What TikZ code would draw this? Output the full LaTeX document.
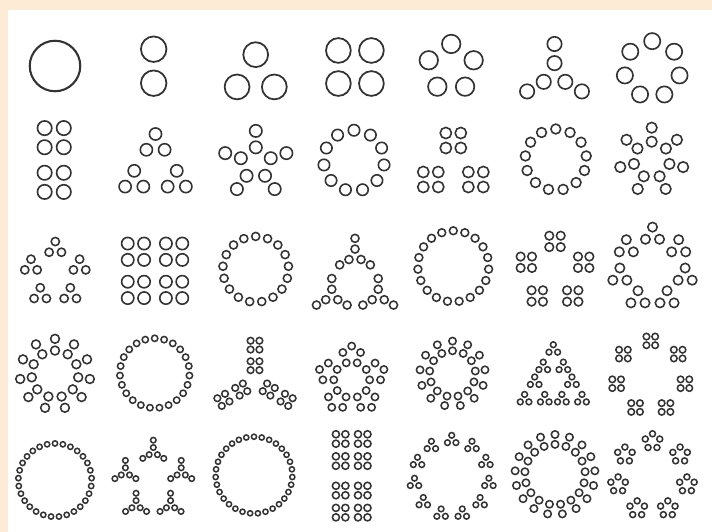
\documentclass[tikz,border=0pt]{standalone}
\definecolor{peach}{HTML}{FDEBD5}
\definecolor{ink}{HTML}{333333}
\tikzset{fdcirc/.style={draw=ink}}
\makeatletter
\def\fd@dot{.}
\def\fd@split#1,#2\fd@end{\def\fd@head{#1}\def\fd@tail{#2}}
\def\fd@csplit#1,#2\fd@end{\def\fd@chead{#1}\def\fd@ctail{#2}}
\def\fd@pc#1/#2\fd@end{\def\fd@p{#1}\def\fd@c{#2}}
\def\fd@cpc#1/#2\fd@end{\def\fd@cp{#1}}
\gdef\fdminx{10000}\gdef\fdmaxx{-10000}\gdef\fdminy{10000}\gdef\fdmaxy{-10000}
\gdef\fdW{2}\gdef\fdH{2}
\newcommand\fdsize[1]{%
  \begingroup
    \edef\fd@restore{\gdef\noexpand\fdminx{\fdminx}\gdef\noexpand\fdmaxx{\fdmaxx}\gdef\noexpand\fdminy{\fdminy}\gdef\noexpand\fdmaxy{\fdmaxy}}%
    \gdef\fdminx{10000}\gdef\fdmaxx{-10000}\gdef\fdminy{10000}\gdef\fdmaxy{-10000}%
    \fdtrav{#1}{0}{0}{0}{0}%
    \pgfmathsetmacro\fd@w{\fdmaxx-\fdminx+2}%
    \pgfmathsetmacro\fd@h{\fdmaxy-\fdminy+2}%
    \fd@restore
    \xdef\fdW{\fd@w}\xdef\fdH{\fd@h}%
  \endgroup}
\newcommand\fdtrav[5]{%
  \begingroup
  \edef\fd@list{#1}%
  \expandafter\fd@split\fd@list,\fd@end
  \ifx\fd@head\fd@dot
    \ifnum#5=0
      \pgfmathsetmacro\fd@t{min(\fdminx,#2)}\xdef\fdminx{\fd@t}%
      \pgfmathsetmacro\fd@t{max(\fdmaxx,#2)}\xdef\fdmaxx{\fd@t}%
      \pgfmathsetmacro\fd@t{min(\fdminy,#3)}\xdef\fdminy{\fd@t}%
      \pgfmathsetmacro\fd@t{max(\fdmaxy,#3)}\xdef\fdmaxy{\fd@t}%
    \else
      \pgfmathsetmacro\fd@X{\fdcx+\fds*(#2-\fdbx)}%
      \pgfmathsetmacro\fd@Y{-\fdcy+\fds*(#3-\fdby)}%
      \draw[fdcirc,line width=\fdlw pt] (\fd@X pt,\fd@Y pt) circle[radius=\fds pt];%
    \fi
  \else
    \expandafter\fd@pc\fd@head\fd@end
    \fdsize{\fd@tail}%
    \let\fd@Wc\fdW \let\fd@Hc\fdH
    \ifnum\fd@p=2
      \ifdim\fd@Wc pt>\dimexpr\fd@Hc pt-0.01pt\relax
        \def\fd@dx{0}\pgfmathsetmacro\fd@dy{2/3*\fd@Hc}%
      \else
        \pgfmathsetmacro\fd@dx{2/3*\fd@Wc}\def\fd@dy{0}%
      \fi
      \pgfmathsetmacro\fd@rx{\fd@dx*cos(#4)-\fd@dy*sin(#4)}%
      \pgfmathsetmacro\fd@ry{\fd@dx*sin(#4)+\fd@dy*cos(#4)}%
      \pgfmathsetmacro\fd@ax{#2+\fd@rx}\pgfmathsetmacro\fd@ay{#3+\fd@ry}%
      \pgfmathsetmacro\fd@bx{#2-\fd@rx}\pgfmathsetmacro\fd@by{#3-\fd@ry}%
      \edef\fd@next{\noexpand\fdtrav{\fd@tail}{\fd@ax}{\fd@ay}{#4}{#5}\noexpand\fdtrav{\fd@tail}{\fd@bx}{\fd@by}{#4}{#5}}%
      \fd@next
    \else
      \def\fd@rot{0}%
      \expandafter\fd@csplit\fd@tail,\fd@end
      \ifx\fd@chead\fd@dot\else
        \expandafter\fd@cpc\fd@chead\fd@end
        \ifnum\fd@cp=2
          \pgfmathsetmacro\fd@dd{abs(\fd@Wc-\fd@Hc)}%
          \ifdim\fd@dd pt>0.01pt \def\fd@rot{1}\fi
        \fi
      \fi
      \ifnum\fd@rot=1
        \fdsize{\fd@ctail}%
        \pgfmathsetmacro\fd@r{\fd@c*\fdW/sin(180/\fd@p)+2/3*\fdH}%
      \else
        \pgfmathsetmacro\fd@r{\fd@c*max(\fd@Wc,\fd@Hc)/sin(180/\fd@p)}%
      \fi
      \pgfmathtruncatemacro\fd@pm{\fd@p-1}%
      \foreach \fd@i in {0,...,\fd@pm}{%
        \pgfmathsetmacro\fd@a{360*\fd@i/\fd@p}%
        \pgfmathsetmacro\fd@lx{-\fd@r*sin(\fd@a)}%
        \pgfmathsetmacro\fd@ly{\fd@r*cos(\fd@a)}%
        \pgfmathsetmacro\fd@gx{#2+\fd@lx*cos(#4)-\fd@ly*sin(#4)}%
        \pgfmathsetmacro\fd@gy{#3+\fd@lx*sin(#4)+\fd@ly*cos(#4)}%
        \ifnum\fd@rot=1 \pgfmathsetmacro\fd@th{#4+\fd@a}\else\edef\fd@th{#4}\fi
        \edef\fd@next{\noexpand\fdtrav{\fd@tail}{\fd@gx}{\fd@gy}{\fd@th}{#5}}%
        \fd@next
      }%
    \fi
  \fi
  \endgroup}
\newcommand\fdcell[5]{%
  \begingroup
  \gdef\fdminx{10000}\gdef\fdmaxx{-10000}\gdef\fdminy{10000}\gdef\fdmaxy{-10000}%
  \fdtrav{#1}{0}{0}{0}{0}%
  \pgfmathsetmacro\fds{min((#4-1.5)/(\fdmaxx-\fdminx+2),(#5-1.5)/(\fdmaxy-\fdminy+2))}%
  \pgfmathsetmacro\fdbx{(\fdmaxx+\fdminx)/2}%
  \pgfmathsetmacro\fdby{(\fdmaxy+\fdminy)/2}%
  \def\fdcx{#2}\def\fdcy{#3}%
  \pgfmathsetmacro\fdlw{1.45+0.025*\fds}%
  \fdtrav{#1}{0}{0}{0}{1}%
  \endgroup}
\makeatother
\begin{document}
\begin{tikzpicture}
\useasboundingbox (0,0) rectangle (712pt,-532pt);
\fill[peach] (0,0) rectangle (712pt,-532pt);
\fill[white] (8pt,-10pt) rectangle (712pt,-532pt);
% row 1
\fdcell{.}{55}{66}{53}{52}
\fdcell{2/0,.}{153.7}{66.2}{30.5}{61}
\fdcell{3/0.75,.}{255.7}{70.8}{63.6}{60.3}
\fdcell{2/0,2/0,.}{354.9}{67}{60.4}{59.3}
\fdcell{5/0.75,.}{451.2}{65.3}{65}{62.7}
\fdcell{3/0.75,2/0,.}{554.5}{67.7}{78}{63.3}
\fdcell{7/0.75,.}{652.2}{67.8}{73.6}{71}
% row 2
\fdcell{2/0,2/0,2/0,.}{54.2}{160}{35}{80}
\fdcell{3/0.7,3/0.75,.}{155.5}{160.3}{74.4}{69.3}
\fdcell{5/0.75,2/0,.}{255.8}{160}{75}{73.3}
\fdcell{11/0.75,.}{354}{160}{73}{73}
\fdcell{3/0.86,2/0,2/0,.}{453.3}{160}{76.7}{66.7}
\fdcell{13/0.75,.}{555.8}{159.2}{75}{71.7}
\fdcell{7/0.75,2/0,.}{651.7}{158.3}{76.7}{73.3}
% row 3
\fdcell{5/0.73,3/0.75,.}{55.3}{270}{70.7}{70}
\fdcell{2/0,2/0,2/0,2/0,.}{155}{270.8}{73.4}{68.3}
\fdcell{17/0.75,.}{255.7}{269}{75}{75}
\fdcell{3/0.6,3/0.75,2/0,.}{355}{271.7}{86.6}{76.7}
\fdcell{19/0.75,.}{453.3}{266}{80}{80}
\fdcell{5/0.89,2/0,2/0,.}{555}{268.7}{83.4}{76}
\fdcell{7/0.62,3/0.75,.}{652.5}{265}{91.6}{86.7}
% row 4
\fdcell{11/0.75,2/0,.}{55}{373.3}{80}{83.3}
\fdcell{23/0.75,.}{154.7}{373}{77.3}{77.4}
\fdcell{3/0.89,2/0,2/0,2/0,.}{255}{373.3}{83.4}{73.3}
\fdcell{5/0.58,5/0.75,.}{351.7}{376.7}{73.3}{70}
\fdcell{13/0.75,2/0,.}{452.5}{373.3}{75}{73.3}
\fdcell{3/0.54,3/0.7,3/0.75,.}{553.3}{373.3}{73.3}{66.7}
\fdcell{7/1.0,2/0,2/0,.}{650.8}{374.2}{85}{85}
% row 5
\fdcell{29/0.75,.}{55}{480}{80}{80}
\fdcell{5/0.65,3/0.75,2/0,.}{153.3}{475.8}{86.7}{78.3}
\fdcell{31/0.75,.}{254}{475}{83.3}{83.3}
\fdcell{2/0,2/0,2/0,2/0,2/0,.}{351.7}{475.8}{46.7}{91.7}
\fdcell{11/0.75,3/0.75,.}{451.7}{475.8}{90}{88.3}
\fdcell{17/0.75,2/0,.}{555}{474.2}{90}{88.3}
\fdcell{7/0.75,5/0.75,.}{652.5}{474.2}{98.4}{88.3}
\end{tikzpicture}
\end{document}
